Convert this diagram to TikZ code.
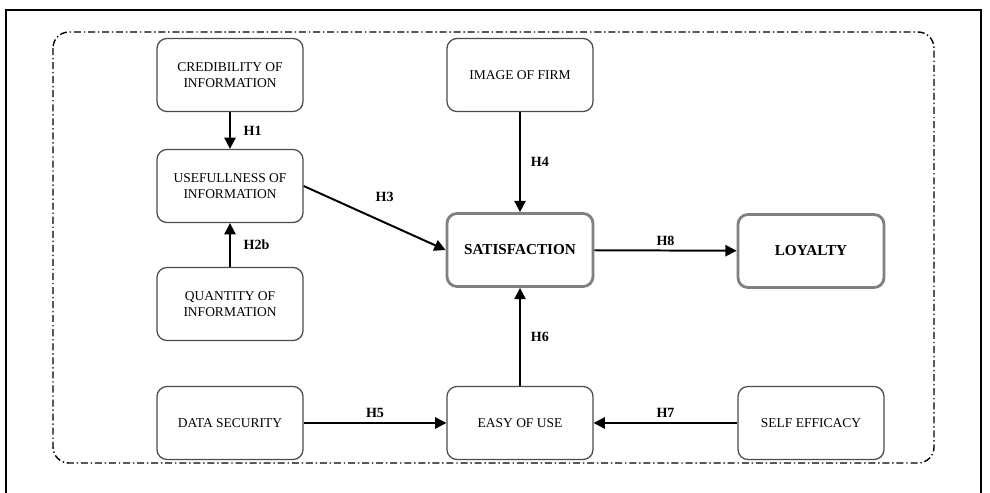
\documentclass[tikz,border=0pt]{standalone}
\usepackage{fontspec}
\setmainfont{Liberation Serif}
\usetikzlibrary{arrows.meta}
\begin{document}
\begin{tikzpicture}[x=0.025cm, y=-0.025cm,
	factor/.style={draw=black!70, line width=0.9pt, rounded corners=0.25cm, minimum width=3.65cm, minimum height=1.825cm, inner sep=0pt, align=center, font=\fontsize{9.6}{11}\selectfont},
	outcome/.style={factor, draw=black!50, line width=2pt, font=\fontsize{10.8}{12}\selectfont\bfseries},
	hyp/.style={-{Triangle[length=8pt, width=8pt]}, line width=1.4pt},
	hlabel/.style={font=\fontsize{10}{11}\selectfont\bfseries, inner sep=1pt}]
	\useasboundingbox (0,0) rectangle (990,492);
	%outer frame
	\draw[line width=0.9pt] (6,500) -- (6,10) -- (981,10) -- (981,500);
	\draw[line width=1pt, rounded corners=0.4cm, dash pattern=on 5pt off 2pt on 1pt off 2pt] (53,32) rectangle (934,463);
	
	%left column
	\node[factor] (cred) at (230, 75){CREDIBILITY OF\\INFORMATION};
	\node[factor] (usef) at (230, 186){USEFULLNESS OF\\INFORMATION};
	\node[factor] (quan) at (230, 304){QUANTITY OF\\INFORMATION};
	\node[factor] (data) at (230, 423){DATA SECURITY};
	%middle column
	\node[factor] (image) at (520, 75){IMAGE OF FIRM};
	\node[outcome] (satis) at (520, 250){SATISFACTION};
	\node[factor] (easy) at (520, 423){EASY OF USE};
	%right column
	\node[outcome] (loyal) at (811, 251){LOYALTY};
	\node[factor] (self) at (811, 423){SELF EFFICACY};
	
	%hypotheses
	\draw[hyp] (cred) -- node[hlabel, right=8pt]{H1} (usef);
	\draw[hyp] (quan) -- node[hlabel, right=8pt]{H2b} (usef);
	\draw[hyp] (usef.east) -- node[hlabel, pos=0.57, above=13pt]{H3} (satis.west);
	\draw[hyp] (image) -- node[hlabel, right=6pt]{H4} (satis);
	\draw[hyp] (data) -- node[hlabel, above=2pt]{H5} (easy);
	\draw[hyp] (easy) -- node[hlabel, right=6pt]{H6} (satis);
	\draw[hyp] (self) -- node[hlabel, above=2pt]{H7} (easy);
	\draw[hyp] (satis) -- node[hlabel, above=2pt]{H8} (loyal);
\end{tikzpicture}
\end{document}
